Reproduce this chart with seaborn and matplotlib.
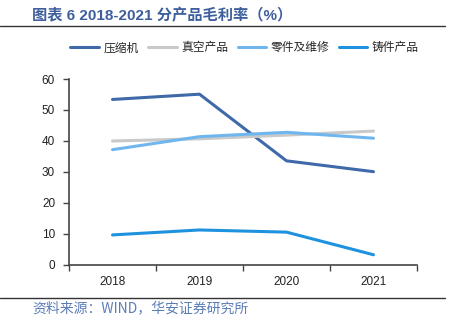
import matplotlib
matplotlib.use("Agg")
import matplotlib.pyplot as plt
import seaborn as sns
import pandas as pd
from matplotlib.ticker import FixedLocator

years = ["2018", "2019", "2020", "2021"]
compressor = [53.4, 55.1, 33.6, 30.1]
vacuum = [40.0, 40.7, 41.9, 43.2]
parts = [37.2, 41.4, 42.8, 40.9]
castings = [9.7, 11.3, 10.6, 3.3]
series_names = ["压缩机", "真空产品", "零件及维修", "铸件产品"]
colors = ["#3F69A8", "#C9C9C9", "#70B6EE", "#1E92DE"]

sns.set_theme(style="white")
plt.rcParams["font.family"] = ["Liberation Sans", "Noto Sans CJK SC", "DejaVu Sans"]

rows = []
for name, vals in zip(series_names, [compressor, vacuum, parts, castings]):
    for i, v in enumerate(vals):
        rows.append({"x": i, "year": years[i], "value": v, "series": name})
df = pd.DataFrame(rows)

fig = plt.figure(figsize=(4.49, 3.30), dpi=100)
ax = fig.add_axes([0.1537, 0.197, 0.775, 0.5636])

sns.lineplot(data=df, x="x", y="value", hue="series", hue_order=series_names,
             palette=colors, linewidth=2.2, ax=ax, legend=False)

ax.set_xlim(-0.5, 3.5)
ax.set_ylim(0, 60)
ax.set_yticks(range(0, 61, 10))
ax.set_xticks(range(4))
ax.set_xticklabels(years)
ax.xaxis.set_minor_locator(FixedLocator([-0.5, 0.5, 1.5, 2.5, 3.5]))
ax.tick_params(axis="x", which="major", length=0, pad=8, labelsize=8.5, colors="#222222")
ax.tick_params(axis="x", which="minor", length=4, width=1, color="#444444", direction="out", bottom=True)
ax.tick_params(axis="y", length=4, width=1, color="#444444", direction="out", left=True,
               labelsize=8.5, colors="#222222", pad=6)
ax.set_xlabel("")
ax.set_ylabel("")
for side in ["top", "right"]:
    ax.spines[side].set_visible(False)
for side in ["left", "bottom"]:
    ax.spines[side].set_color("#444444")
    ax.spines[side].set_linewidth(1.2)

handles = [plt.Line2D([], [], color=c, linewidth=2.2) for c in colors]
fig.legend(handles, series_names, loc="center", bbox_to_anchor=(0.545, 0.855), ncol=4,
           frameon=False, handlelength=2.4, handletextpad=0.4, columnspacing=0.8,
           prop={"family": ["Noto Sans CJK SC"], "size": 8.5})

fig.text(0.071, 0.952, "图表 6 2018-2021 分产品毛利率（%）", color="#3E5F9C",
         fontsize=11, fontweight="bold", ha="left", va="center",
         family=["Liberation Sans", "Noto Sans CJK SC"])
fig.text(0.071, 0.066, "资料来源：WIND，华安证券研究所", color="#5B7DB6",
         fontsize=10, ha="left", va="center", family=["Noto Sans CJK SC"])

fig.add_artist(plt.Line2D([0.0, 0.99], [0.921, 0.921], color="#333333", linewidth=1.0,
                          transform=fig.transFigure))
fig.add_artist(plt.Line2D([0.0, 0.99], [0.097, 0.097], color="#333333", linewidth=1.0,
                          transform=fig.transFigure))

fig.savefig("out.png", dpi=100)
